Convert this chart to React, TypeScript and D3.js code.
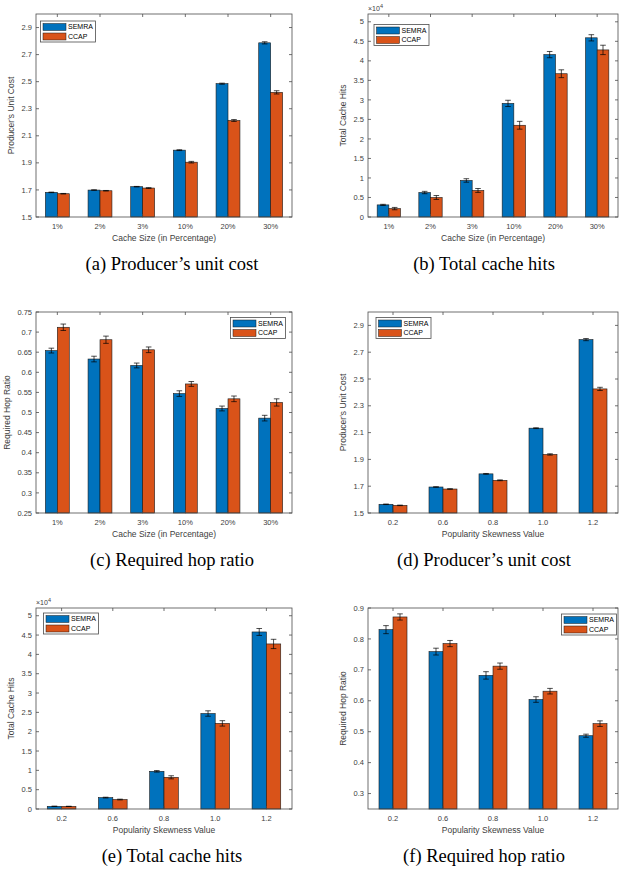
import React from 'react';
import * as d3 from 'd3';

// categories
const cacheSizes = ['1%', '2%', '3%', '10%', '20%', '30%'];
const skewValues = ['0.2', '0.6', '0.8', '1.0', '1.2'];
const seriesNames = ['SEMRA', 'CCAP'];
const seriesColors = ['#0072BD', '#D95319'];

// (a) producer's unit cost vs cache size
const costCacheSemra = [1.682, 1.699, 1.724, 1.994, 2.485, 2.787];
const costCacheCcap = [1.672, 1.694, 1.714, 1.905, 2.213, 2.421];
const costCacheSemraErr = [0.002, 0.002, 0.002, 0.003, 0.004, 0.008];
const costCacheCcapErr = [0.002, 0.002, 0.003, 0.006, 0.007, 0.012];

// (b) total cache hits vs cache size
const hitsCacheSemra = [3100, 6270, 9360, 29100, 41600, 45900];
const hitsCacheCcap = [2150, 5000, 6800, 23500, 36700, 42800];
const hitsCacheSemraErr = [150, 300, 450, 800, 800, 800];
const hitsCacheCcapErr = [300, 500, 500, 1000, 1000, 1200];

// (c) required hop ratio vs cache size
const hopCacheSemra = [0.654, 0.633, 0.617, 0.547, 0.51, 0.486];
const hopCacheCcap = [0.712, 0.681, 0.656, 0.571, 0.534, 0.525];
const hopCacheSemraErr = [0.006, 0.007, 0.006, 0.007, 0.006, 0.007];
const hopCacheCcapErr = [0.008, 0.009, 0.007, 0.006, 0.007, 0.009];

// (d) producer's unit cost vs skewness
const costSkewSemra = [1.565, 1.694, 1.792, 2.133, 2.794];
const costSkewCcap = [1.557, 1.679, 1.744, 1.937, 2.426];
const costSkewSemraErr = [0.002, 0.002, 0.003, 0.003, 0.008];
const costSkewCcapErr = [0.002, 0.002, 0.003, 0.005, 0.012];

// (e) total cache hits vs skewness
const hitsSkewSemra = [700, 2950, 9750, 24700, 45800];
const hitsSkewCcap = [680, 2450, 8200, 22150, 42700];
const hitsSkewSemraErr = [30, 100, 200, 700, 900];
const hitsSkewCcapErr = [30, 100, 400, 700, 1200];

// (f) required hop ratio vs skewness
const hopSkewSemra = [0.83, 0.759, 0.682, 0.604, 0.487];
const hopSkewCcap = [0.871, 0.785, 0.712, 0.631, 0.526];
const hopSkewSemraErr = [0.013, 0.011, 0.012, 0.009, 0.005];
const hopSkewCcapErr = [0.01, 0.01, 0.01, 0.009, 0.009];

// tick labels
const costTicks = [1.5, 1.7, 1.9, 2.1, 2.3, 2.5, 2.7, 2.9];
const hitsTicks = [0, 0.5, 1, 1.5, 2, 2.5, 3, 3.5, 4, 4.5, 5];
const hopCacheTicks = [0.25, 0.3, 0.35, 0.4, 0.45, 0.5, 0.55, 0.6, 0.65, 0.7, 0.75];
const hopSkewTicks = [0.3, 0.4, 0.5, 0.6, 0.7, 0.8, 0.9];

const SANS = '"Liberation Sans", Arial, sans-serif';
const SERIF = '"Liberation Serif", "Times New Roman", serif';
const AXIS = '#4d4d4d';
const TXT = '#404040';

type PanelProps = {
  box: { l: number; t: number; r: number; b: number };
  cats: string[];
  series: number[][];
  errs: number[][];
  domain: [number, number];
  ticks: number[];
  scale?: number;
  ylabel: string;
  xlabel: string;
  caption: string;
  captionX: number;
  ylabelX: number;
  legend: { x: number; y: number };
  exponent?: boolean;
};

function Panel(p: PanelProps) {
  const { box } = p;
  const k = p.scale || 1;
  const x = d3.scaleBand().domain(p.cats).range([box.l, box.r]);
  const y = d3.scaleLinear().domain(p.domain).range([box.b, box.t]);
  const groupW = x.bandwidth() * 0.56;
  const inner = d3.scaleBand().domain(['0', '1']).range([0, groupW]);
  const groupOff = (x.bandwidth() - groupW) / 2;
  const cx = (c: string) => (x(c) as number) + x.bandwidth() / 2;
  const tl = 3;

  return (
    <g>
      {p.series.map((vals, si) =>
        vals.map((v, i) => {
          const x0 = (x(p.cats[i]) as number) + groupOff + (inner(String(si)) as number);
          return (
            <rect
              key={`b${si}-${i}`}
              x={x0}
              y={y(v / k)}
              width={inner.bandwidth()}
              height={y(p.domain[0]) - y(v / k)}
              fill={seriesColors[si]}
              stroke="#1a1a1a"
              strokeWidth={0.6}
            />
          );
        })
      )}
      {p.series.map((vals, si) =>
        vals.map((v, i) => {
          const xm =
            (x(p.cats[i]) as number) + groupOff + (inner(String(si)) as number) + inner.bandwidth() / 2;
          const e = p.errs[si][i];
          const y1 = y((v + e) / k);
          const y2 = y((v - e) / k);
          return (
            <g key={`e${si}-${i}`} stroke="#000" strokeWidth={0.7}>
              <line x1={xm} x2={xm} y1={y1} y2={y2} />
              <line x1={xm - 2.8} x2={xm + 2.8} y1={y1} y2={y1} />
              <line x1={xm - 2.8} x2={xm + 2.8} y1={y2} y2={y2} />
            </g>
          );
        })
      )}
      <rect x={box.l} y={box.t} width={box.r - box.l} height={box.b - box.t} fill="none" stroke={AXIS} strokeWidth={0.8} />
      {p.ticks.map((t) => (
        <g key={`yt${t}`}>
          <line x1={box.l} x2={box.l + tl} y1={y(t)} y2={y(t)} stroke={AXIS} strokeWidth={0.8} />
          <line x1={box.r} x2={box.r - tl} y1={y(t)} y2={y(t)} stroke={AXIS} strokeWidth={0.8} />
          <text x={box.l - 4} y={y(t)} dy="0.35em" textAnchor="end" fontSize={7.5} fill={TXT} fontFamily={SANS}>
            {String(t)}
          </text>
        </g>
      ))}
      {p.cats.map((c) => (
        <g key={`xt${c}`}>
          <line x1={cx(c)} x2={cx(c)} y1={box.b} y2={box.b - tl} stroke={AXIS} strokeWidth={0.8} />
          <line x1={cx(c)} x2={cx(c)} y1={box.t} y2={box.t + tl} stroke={AXIS} strokeWidth={0.8} />
          <text x={cx(c)} y={box.b + 12} textAnchor="middle" fontSize={7.5} fill={TXT} fontFamily={SANS}>
            {c}
          </text>
        </g>
      ))}
      {p.exponent && (
        <text x={box.l} y={box.t - 3} fontSize={7} fill={TXT} fontFamily={SANS}>
          ×10<tspan dy={-3} fontSize={5.5}>4</tspan>
        </text>
      )}
      <text
        transform={`translate(${p.ylabelX},${(box.t + box.b) / 2}) rotate(-90)`}
        textAnchor="middle"
        fontSize={8.5}
        fill={TXT}
        fontFamily={SANS}
      >
        {p.ylabel}
      </text>
      <text x={(box.l + box.r) / 2} y={box.b + 24} textAnchor="middle" fontSize={8.5} fill={TXT} fontFamily={SANS}>
        {p.xlabel}
      </text>
      <g transform={`translate(${p.legend.x},${p.legend.y})`}>
        <rect x={0} y={0} width={55} height={21} fill="#fff" stroke={AXIS} strokeWidth={0.8} />
        {seriesNames.map((n, i) => (
          <g key={n}>
            <rect x={2.5} y={2.5 + i * 9.5} width={23} height={7} fill={seriesColors[i]} stroke="#1a1a1a" strokeWidth={0.5} />
            <text x={27.5} y={6 + i * 9.5} dy="0.35em" fontSize={7} fill="#000" fontFamily={SANS}>
              {n}
            </text>
          </g>
        ))}
      </g>
      <text x={p.captionX} y={box.b + 53} textAnchor="middle" fontSize={18.5} fill="#000" fontFamily={SERIF}>
        {p.caption}
      </text>
    </g>
  );
}

const L = { l: 36, r: 292 };
const R = { l: 368, r: 618 };
const rows = [
  { t: 14, b: 217 },
  { t: 312, b: 513 },
  { t: 608, b: 809 },
];
const capL = 172;
const capR = 484;

export default function App() {
  return (
    <svg width={619} height={869} style={{ position: 'absolute', left: 0, top: 0, background: '#fff' }}>
      <Panel
        box={{ ...L, ...rows[0] }}
        cats={cacheSizes}
        series={[costCacheSemra, costCacheCcap]}
        errs={[costCacheSemraErr, costCacheCcapErr]}
        domain={[1.5, 3.0]}
        ticks={costTicks}
        ylabel="Producer's Unit Cost"
        xlabel="Cache Size (in Percentage)"
        caption="(a) Producer’s unit cost"
        captionX={capL}
        ylabelX={14}
        legend={{ x: 40.5, y: 21 }}
      />
      <Panel
        box={{ ...R, ...rows[0] }}
        cats={cacheSizes}
        series={[hitsCacheSemra, hitsCacheCcap]}
        errs={[hitsCacheSemraErr, hitsCacheCcapErr]}
        domain={[0, 5.2]}
        scale={10000}
        ticks={hitsTicks}
        ylabel="Total Cache Hits"
        xlabel="Cache Size (in Percentage)"
        caption="(b) Total cache hits"
        captionX={capR}
        ylabelX={346}
        legend={{ x: 374, y: 24.5 }}
        exponent
      />
      <Panel
        box={{ ...L, ...rows[1] }}
        cats={cacheSizes}
        series={[hopCacheSemra, hopCacheCcap]}
        errs={[hopCacheSemraErr, hopCacheCcapErr]}
        domain={[0.25, 0.75]}
        ticks={hopCacheTicks}
        ylabel="Required Hop Ratio"
        xlabel="Cache Size (in Percentage)"
        caption="(c) Required hop ratio"
        captionX={capL}
        ylabelX={10}
        legend={{ x: 230.5, y: 317.5 }}
      />
      <Panel
        box={{ ...R, ...rows[1] }}
        cats={skewValues}
        series={[costSkewSemra, costSkewCcap]}
        errs={[costSkewSemraErr, costSkewCcapErr]}
        domain={[1.5, 3.0]}
        ticks={costTicks}
        ylabel="Producer's Unit Cost"
        xlabel="Popularity Skewness Value"
        caption="(d) Producer’s unit cost"
        captionX={capR}
        ylabelX={346}
        legend={{ x: 376, y: 317.5 }}
      />
      <Panel
        box={{ ...L, ...rows[2] }}
        cats={skewValues}
        series={[hitsSkewSemra, hitsSkewCcap]}
        errs={[hitsSkewSemraErr, hitsSkewCcapErr]}
        domain={[0, 5.2]}
        scale={10000}
        ticks={hitsTicks}
        ylabel="Total Cache Hits"
        xlabel="Popularity Skewness Value"
        caption="(e) Total cache hits"
        captionX={capL}
        ylabelX={14}
        legend={{ x: 43.5, y: 613 }}
        exponent
      />
      <Panel
        box={{ ...R, ...rows[2] }}
        cats={skewValues}
        series={[hopSkewSemra, hopSkewCcap]}
        errs={[hopSkewSemraErr, hopSkewCcapErr]}
        domain={[0.25, 0.9]}
        ticks={hopSkewTicks}
        ylabel="Required Hop Ratio"
        xlabel="Popularity Skewness Value"
        caption="(f) Required hop ratio"
        captionX={capR}
        ylabelX={346}
        legend={{ x: 561.5, y: 614 }}
      />
    </svg>
  );
}
